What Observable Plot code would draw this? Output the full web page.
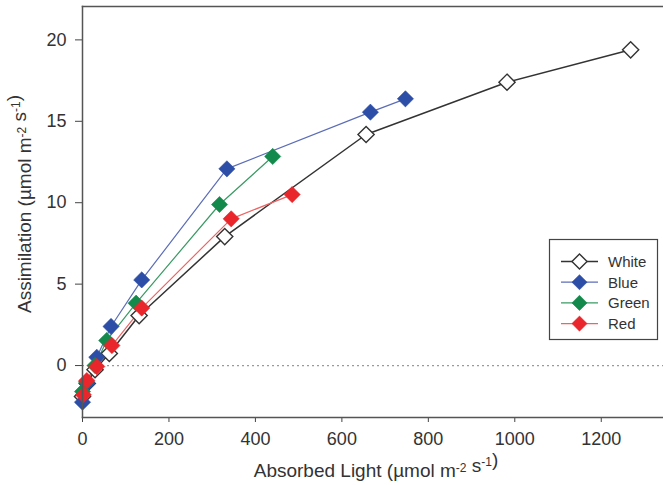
<!DOCTYPE html>
<html>
<head>
<meta charset="utf-8">
<script src="https://cdn.jsdelivr.net/npm/d3@7"></script>
<script src="https://cdn.jsdelivr.net/npm/@observablehq/plot@0.6"></script>
<style>
  html, body { margin: 0; padding: 0; background: #fff; }
  svg { display: block; }
</style>
</head>
<body>
<div id="chart"></div>
<script>
// ---- data ----
const seriesNames = ["White", "Blue", "Green", "Red"];

const whiteX = [0, 11, 29, 62, 131, 329, 656, 982, 1268];
const whiteY = [-1.9, -1.1, -0.25, 0.74, 3.07, 7.92, 14.19, 17.4, 19.39];

const blueX = [0, 11, 33, 66, 137, 334, 666, 747];
const blueY = [-2.25, -1.1, 0.51, 2.4, 5.26, 12.08, 15.56, 16.38];

const greenX = [0, 9, 29, 56, 124, 317, 440];
const greenY = [-1.6, -1.0, 0.0, 1.54, 3.83, 9.89, 12.84];

const redX = [2, 10, 33, 68, 137, 344, 485];
const redY = [-1.8, -0.92, -0.06, 1.23, 3.53, 9.01, 10.5];

const xTicks = [0, 200, 400, 600, 800, 1000, 1200];
const yTicks = [0, 5, 10, 15, 20];

// ---- styles ----
const markFill = {White: "#ffffff", Blue: "#2d4ea6", Green: "#138a4c", Red: "#e8262b"};
const markStroke = {White: "#333333", Blue: "#2d4ea6", Green: "#138a4c", Red: "#e8262b"};
const lineColor = {White: "#333333", Blue: "#5b6db8", Green: "#3a9a64", Red: "#ec6464"};
const lineWidth = {White: 1.5, Blue: 1.2, Green: 1.2, Red: 1.2};

const xs = {White: whiteX, Blue: blueX, Green: greenX, Red: redX};
const ys = {White: whiteY, Blue: blueY, Green: greenY, Red: redY};
const data = seriesNames.flatMap(s => xs[s].map((x, i) => ({series: s, x, y: ys[s][i]})));

const R = 7.3;
const font = "'Liberation Sans', Arial, Helvetica, sans-serif";

const marks = [
  Plot.ruleY([0], {stroke: "#9a9a9a", strokeWidth: 1.2, strokeDasharray: "2,3"}),
  ...seriesNames.map(s => Plot.line(data.filter(d => d.series === s), {
    x: "x", y: "y", stroke: lineColor[s], strokeWidth: lineWidth[s]
  })),
  ...seriesNames.map(s => Plot.dot(data.filter(d => d.series === s), {
    x: "x", y: "y", symbol: "diamond2", r: R,
    fill: markFill[s], stroke: markStroke[s], strokeWidth: s === "White" ? 1.4 : 0.6
  })),
  Plot.axisX({ticks: xTicks, tickFormat: d => String(d), tickSize: 5, tickPadding: 10, label: null, stroke: "#444", fill: "#333"}),
  Plot.axisY({ticks: yTicks, tickFormat: d => String(d), tickSize: 7, tickPadding: 9, label: null, stroke: "#444", fill: "#333"}),
  Plot.frame({anchor: "top", stroke: "#555", strokeWidth: 1.5}),
  Plot.frame({anchor: "left", stroke: "#555", strokeWidth: 1.5}),
  Plot.frame({anchor: "bottom", stroke: "#555", strokeWidth: 1.5})
];

const plot = Plot.plot({
  width: 663,
  height: 485,
  marginLeft: 82,
  marginRight: 0,
  marginTop: 6,
  marginBottom: 68,
  x: {domain: [0, 1344]},
  y: {domain: [-3.19, 22.05]},
  style: {fontFamily: font, fontSize: "18px", color: "#333", background: "#fff", overflow: "visible"},
  marks
});

document.getElementById("chart").appendChild(plot);

const svg = d3.select(plot);

// axis titles with superscripts
function richText(g, parts) {
  parts.forEach(p => {
    if (p.sup) {
      g.append("tspan").attr("dy", "-0.45em").attr("font-size", "12px").text(p.t);
      g.append("tspan").attr("dy", "0.45em").text("");
    } else {
      g.append("tspan").text(p.t);
    }
  });
}

const xl = svg.append("text")
  .attr("x", 376).attr("y", 477)
  .attr("text-anchor", "middle")
  .attr("font-family", font).attr("font-size", "19px").attr("fill", "#333");
richText(xl, [{t: "Absorbed Light (µmol m"}, {t: "-2", sup: true}, {t: " s"}, {t: "-1", sup: true}, {t: ")"}]);

const yl = svg.append("text")
  .attr("transform", "translate(31,204) rotate(-90)")
  .attr("text-anchor", "middle")
  .attr("font-family", font).attr("font-size", "19px").attr("fill", "#333");
richText(yl, [{t: "Assimilation (µmol m"}, {t: "-2", sup: true}, {t: " s"}, {t: "-1", sup: true}, {t: ")"}]);

// legend
const lg = svg.append("g").attr("font-family", font).attr("font-size", "15px");
lg.append("rect").attr("x", 549.5).attr("y", 239.5).attr("width", 108).attr("height", 100)
  .attr("fill", "#fff").attr("stroke", "#444").attr("stroke-width", 1.2);
const sym = d3.symbol(d3.symbolDiamond2, Math.PI * 6.8 * 6.8);
seriesNames.forEach((s, i) => {
  const cy = 261.5 + i * 20.7;
  lg.append("line").attr("x1", 561).attr("x2", 598).attr("y1", cy).attr("y2", cy)
    .attr("stroke", lineColor[s]).attr("stroke-width", lineWidth[s]);
  lg.append("path").attr("d", sym()).attr("transform", `translate(579.5,${cy})`)
    .attr("fill", markFill[s]).attr("stroke", markStroke[s]).attr("stroke-width", s === "White" ? 1.4 : 0.6);
  lg.append("text").attr("x", 608).attr("y", cy + 5.3).attr("text-anchor", "start")
    .attr("fill", "#333").text(s);
});
</script>
</body>
</html>
